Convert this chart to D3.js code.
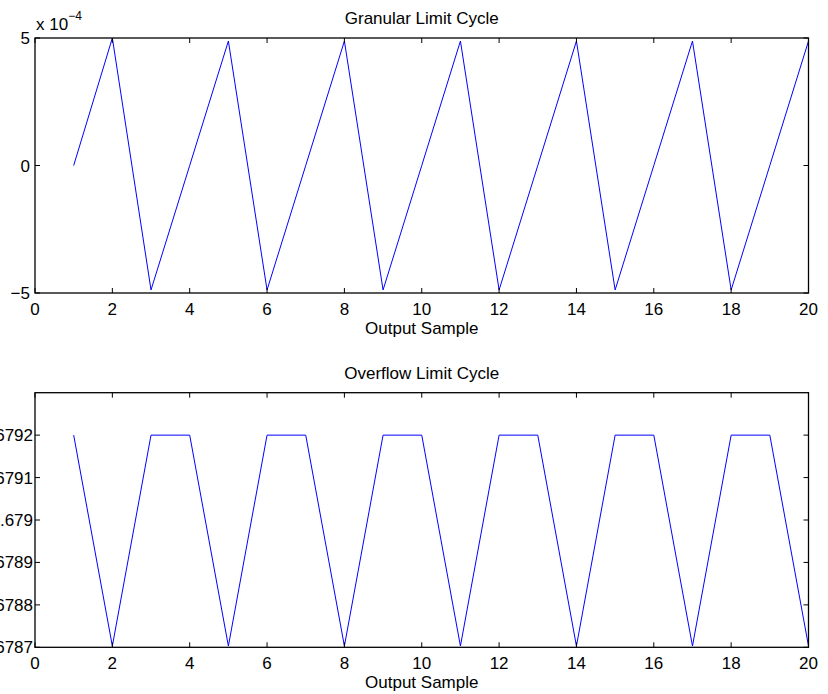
<!DOCTYPE html>
<html><head><meta charset="utf-8">
<script src="https://cdn.jsdelivr.net/npm/d3@7"></script>
<style>body{margin:0;background:#fff}svg{display:block}text{font-family:"Liberation Sans",Arial,Helvetica,sans-serif;fill:#000}</style>
</head><body>
<svg id="c" width="828" height="694"></svg>
<script>
const samples = [1,2,3,4,5,6,7,8,9,10,11,12,13,14,15,16,17,18,19,20];
const granular = [0,5.0e-4,-4.88e-4,0,4.88e-4,-4.88e-4,0,4.88e-4,-4.88e-4,0,4.88e-4,-4.88e-4,0,4.88e-4,-4.88e-4,0,4.88e-4,-4.88e-4,0,4.88e-4];
const hi = 0.6792, lo = 0.678703;
const overflow = [hi,lo,hi,hi,lo,hi,hi,lo,hi,hi,lo,hi,hi,lo,hi,hi,lo,hi,hi,lo];
const xTicks = [0,2,4,6,8,10,12,14,16,18,20];
const topYTicks = [-5e-4,0,5e-4];
const topYLabels = ["\u22125","0","5"];
const botYTicks = [0.6787,0.6788,0.6789,0.679,0.6791,0.6792];
const botYLabels = ["0.6787","0.6788","0.6789","0.679","0.6791","0.6792"];
const titles = ["Granular Limit Cycle","Overflow Limit Cycle"];
const xLabel = "Output Sample";

const svg = d3.select("#c");
const L = 35, R = 808.5, FS = 17;

function panel(top, bottom, yDomain, yTicks, yLabels, data, title, yLabX){
  const x = d3.scaleLinear().domain([0,20]).range([L,R]);
  const y = d3.scaleLinear().domain(yDomain).range([bottom,top]);
  const g = svg.append("g");
  g.append("path").datum(samples.map((s,i)=>[s,data[i]]))
    .attr("fill","none").attr("stroke","#0000ff").attr("stroke-width",1)
    .attr("d", d3.line().x(d=>x(d[0])).y(d=>y(d[1])));
  const tl = 5;
  const ax = g.append("g").attr("stroke","#000").attr("stroke-width",1);
  xTicks.forEach(t=>{
    ax.append("line").attr("x1",x(t)).attr("x2",x(t)).attr("y1",bottom).attr("y2",bottom-tl);
    ax.append("line").attr("x1",x(t)).attr("x2",x(t)).attr("y1",top).attr("y2",top+tl);
  });
  yTicks.forEach(t=>{
    ax.append("line").attr("x1",L).attr("x2",L+tl).attr("y1",y(t)).attr("y2",y(t));
    ax.append("line").attr("x1",R).attr("x2",R-tl).attr("y1",y(t)).attr("y2",y(t));
  });
  g.append("rect").attr("x",L).attr("y",top).attr("width",R-L).attr("height",bottom-top)
    .attr("fill","none").attr("stroke","#000").attr("stroke-width",1.3);
  xTicks.forEach(t=>{
    g.append("text").attr("x",x(t)).attr("y",bottom+22).attr("text-anchor","middle")
      .attr("font-size",FS).text(t);
  });
  yTicks.forEach((t,i)=>{
    g.append("text").attr("x",yLabX).attr("y",y(t)+6).attr("text-anchor","end")
      .attr("font-size",FS).text(yLabels[i]);
  });
  g.append("text").attr("x",(L+R)/2).attr("y",bottom+41).attr("text-anchor","middle")
    .attr("font-size",FS).text(xLabel);
  g.append("text").attr("x",(L+R)/2).attr("y",top-14).attr("text-anchor","middle")
    .attr("font-size",FS).text(title);
  return g;
}

const g1 = panel(38, 293, [-5e-4,5e-4], topYTicks, topYLabels, granular, titles[0], 30);
const ex = g1.append("text").attr("x",36).attr("y",30).attr("font-size",FS);
ex.append("tspan").text("x 10");
ex.append("tspan").attr("dy",-10).attr("font-size",12).text("\u22124");

panel(392.7, 647.3, [0.6787,0.6793], botYTicks, botYLabels, overflow, titles[1], 33);
</script>
</body></html>
